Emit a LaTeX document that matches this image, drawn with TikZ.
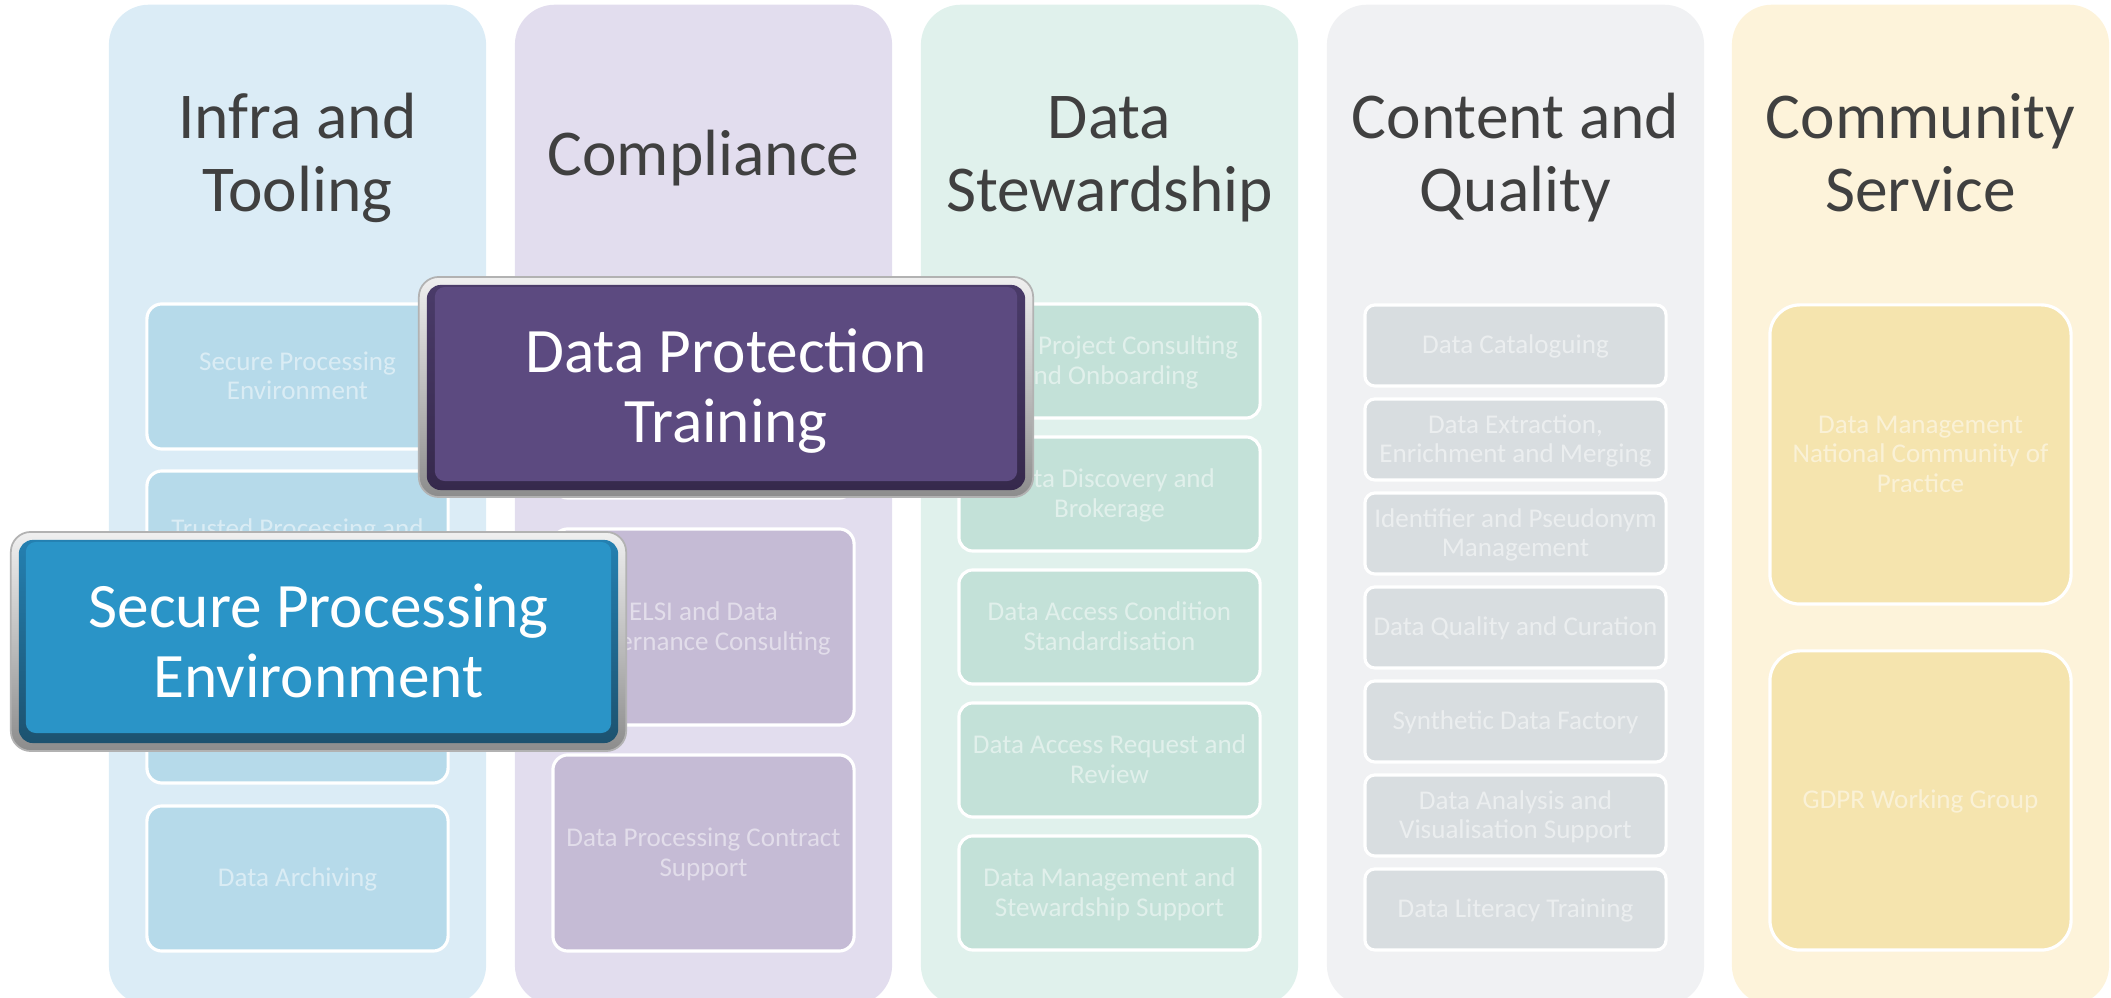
\documentclass[tikz,border=0pt]{standalone}
\usepackage{fontspec}
\setmainfont{Carlito}
\definecolor{cAbg}{HTML}{DBECF6}
\definecolor{cAin}{HTML}{B6DAEA}
\definecolor{cBbg}{HTML}{E2DDEE}
\definecolor{cBin}{HTML}{C5BBD5}
\definecolor{cCbg}{HTML}{E0F1EC}
\definecolor{cCin}{HTML}{C3E1D8}
\definecolor{cDbg}{HTML}{F0F1F3}
\definecolor{cDin}{HTML}{D8DDE0}
\definecolor{cEbg}{HTML}{FDF3DA}
\definecolor{cEin}{HTML}{F5E4AE}
\definecolor{headc}{HTML}{404040}
\definecolor{pmain}{HTML}{5C4A80}
\definecolor{pdarkA}{HTML}{4A3B69}
\definecolor{pdarkB}{HTML}{36294C}
\definecolor{bmain}{HTML}{2A94C7}
\definecolor{bdarkA}{HTML}{2480B1}
\definecolor{bdarkB}{HTML}{1D526F}
\newcommand\tl[1]{\begin{tabular}{@{}c@{}}#1\end{tabular}}
\begin{document}
\begin{tikzpicture}[x=0.01cm,y=-0.01cm,
  colbox/.style={draw=none, rounded corners=0.4cm, minimum width=3.77cm, minimum height=10cm, inner sep=0},
  head/.style={text=headc, font=\fontsize{18.6}{20.8}\selectfont, inner sep=0},
  ibox/.style={draw=white, line width=0.9pt, text=white, text opacity=0.5, font=\fontsize{7.7}{8.4}\selectfont, minimum width=3.01cm, inner sep=0},
  itext/.style={yshift=-0.025cm},
  frame/.style={draw=black!30, line width=0.5pt, top color=white!94!black, bottom color=black!45, inner sep=0},
  hltext/.style={text=white, font=\fontsize{18}{19.9}\selectfont, inner sep=0}
]
\useasboundingbox (0,0) rectangle (2111,998);
\clip (0,0) rectangle (2111,998);
% columns
\node[colbox, fill=cAbg] (colA) at (297.5,505) {};
\node[colbox, fill=cBbg] (colB) at (703.5,505) {};
\node[colbox, fill=cCbg] (colC) at (1109.5,505) {};
\node[colbox, fill=cDbg] (colD) at (1515.5,505) {};
\node[colbox, fill=cEbg] (colE) at (1920.5,505) {};
% headings
\node[head] (hA) at (297.5,160.5) {\tl{Infra and\\Tooling}};
\node[head] (hB) at (703.5,160.5) {\tl{Compliance}};
\node[head] (hC) at (1109.5,160.5) {\tl{Data\\Stewardship}};
\node[head] (hD) at (1515.5,160.5) {\tl{Content and\\Quality}};
\node[head] (hE) at (1920.5,160.5) {\tl{Community\\Service}};
% column 1
\begin{scope}[every node/.style={ibox, fill=cAin, minimum height=1.45cm, rounded corners=0.15cm}]
\node (a1) at (297.5,376.5) {};
\node (a2) at (297.5,543.5) {};
\node (a3) at (297.5,710.5) {};
\node (a4) at (297.5,878.5) {};
\end{scope}
% column 2
\begin{scope}[every node/.style={ibox, fill=cBin, minimum height=1.96cm, rounded corners=0.15cm}]
\node (b1) at (703.5,400) {};
\node (b2) at (703.5,627) {};
\node (b3) at (703.5,853) {};
\end{scope}
% column 3
\begin{scope}[every node/.style={ibox, fill=cCin, minimum height=1.14cm, rounded corners=0.14cm}]
\node (c1) at (1109.5,361) {};
\node (c2) at (1109.5,494) {};
\node (c3) at (1109.5,627) {};
\node (c4) at (1109.5,760) {};
\node (c5) at (1109.5,893) {};
\end{scope}
% column 4
\begin{scope}[every node/.style={ibox, fill=cDin, minimum height=0.81cm, rounded corners=0.1cm}]
\node (d1) at (1515.5,345.5) {};
\node (d2) at (1515.5,439.5) {};
\node (d3) at (1515.5,533.5) {};
\node (d4) at (1515.5,627.5) {};
\node (d5) at (1515.5,721.5) {};
\node (d6) at (1515.5,815.5) {};
\node (d7) at (1515.5,909.5) {};
\end{scope}
% column 5
\begin{scope}[every node/.style={ibox, fill=cEin, minimum height=2.99cm, rounded corners=0.3cm}]
\node (e1) at (1920.5,454.5) {};
\node (e2) at (1920.5,800.5) {};
\end{scope}
% box labels
\begin{scope}[every node/.style={text=white, text opacity=0.5, font=\fontsize{7.7}{8.4}\selectfont, inner sep=0, itext}]
\node (a1t) at (a1) {\tl{Secure Processing\\Environment}};
\node (a2t) at (a2) {\tl{Trusted Processing and\\\phantom{X}}};
\node (a4t) at (a4) {\tl{Data Archiving}};
\node (b2t) at (b2) {\tl{ELSI and Data\\Governance Consulting}};
\node (b3t) at (b3) {\tl{Data Processing Contract\\Support}};
\node (c1t) at (c1) {\tl{Data Project Consulting\\and Onboarding}};
\node (c2t) at (c2) {\tl{Data Discovery and\\Brokerage}};
\node (c3t) at (c3) {\tl{Data Access Condition\\Standardisation}};
\node (c4t) at (c4) {\tl{Data Access Request and\\Review}};
\node (c5t) at (c5) {\tl{Data Management and\\Stewardship Support}};
\node (d1t) at (d1) {\tl{Data Cataloguing}};
\node (d2t) at (d2) {\tl{Data Extraction,\\Enrichment and Merging}};
\node (d3t) at (d3) {\tl{Identifier and Pseudonym\\Management}};
\node (d4t) at (d4) {\tl{Data Quality and Curation}};
\node (d5t) at (d5) {\tl{Synthetic Data Factory}};
\node (d6t) at (d6) {\tl{Data Analysis and\\Visualisation Support}};
\node (d7t) at (d7) {\tl{Data Literacy Training}};
\node (e1t) at (e1) {\tl{Data Management\\National Community of\\Practice}};
\node (e2t) at (e2) {\tl{GDPR Working Group}};
\end{scope}
% highlight: Data Protection Training
\node[frame, rounded corners=0.2cm, minimum width=6.14cm, minimum height=2.20cm] (pf) at (726,387) {};
\node[top color=pdarkA, bottom color=pdarkB, rounded corners=0.14cm, minimum width=5.98cm, minimum height=2.05cm, inner sep=0] (pd) at (726,387.5) {};
\node[fill=pmain, rounded corners=0.1cm, minimum width=5.82cm, minimum height=1.94cm, inner sep=0] (pm) at (726,384) {};
\node[hltext] (pt) at (726,394) {\tl{Data Protection\\Training}};
% highlight: Secure Processing Environment
\node[frame, rounded corners=0.2cm, minimum width=6.15cm, minimum height=2.19cm] (bf) at (318.5,641.5) {};
\node[top color=bdarkA, bottom color=bdarkB, rounded corners=0.14cm, minimum width=5.99cm, minimum height=2.03cm, inner sep=0] (bd) at (318.5,641.5) {};
\node[fill=bmain, rounded corners=0.1cm, minimum width=5.85cm, minimum height=1.91cm, inner sep=0] (bm) at (318.5,637.5) {};
\node[hltext] (bt) at (318.5,648.5) {\tl{Secure Processing\\Environment}};
\end{tikzpicture}
\end{document}
